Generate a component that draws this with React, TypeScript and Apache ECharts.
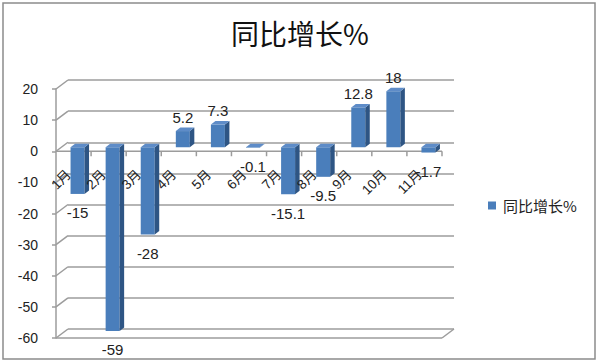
import React, { useEffect, useRef } from "react";
import * as echarts from "echarts";

const categories = ["1月", "2月", "3月", "4月", "5月", "6月", "7月", "8月", "9月", "10月", "11月"];
const values = [-15, -59, -28, 5.2, 7.3, -0.1, -15.1, -9.5, 12.8, 18, -1.7];
const yTicks = [-60, -50, -40, -30, -20, -10, 0, 10, 20];
const seriesName = "同比增长%";
const titleText = "同比增长%";

const LATIN = "'Liberation Sans', 'Noto Sans CJK SC', sans-serif";
const CJK = "'Noto Sans CJK SC', sans-serif";
const GRID_COLOR = "#9c9c9c";
const DEPTH_X = 12;
const DEPTH_Y = 9;
const GRID_LEFT = 56;
const GRID_TOP = 89;
const GRID_W = 386;
const GRID_H = 249;

export default function App() {
  const ref = useRef<HTMLDivElement>(null);

  useEffect(() => {
    document.body.style.margin = "0";
    if (!ref.current) return;
    const chart = echarts.init(ref.current, null, { renderer: "svg" });
    const yMin = yTicks[0];
    const yMax = yTicks[yTicks.length - 1];
    const yInterval = yTicks[1] - yTicks[0];
    const zeroOffset = ((0 - yMin) / (yMax - yMin)) * GRID_H;

    const frameRender = (params: any, api: any) => {
      const t = api.value(1);
      const p = api.coord([0, t]);
      const band = api.size([1, 0])[0];
      const left = p[0] - band / 2;
      const right = left + band * categories.length;
      const y = p[1];
      const ls = { stroke: GRID_COLOR, lineWidth: 1.5, fill: null };
      const children: any[] = [
        { type: "line", shape: { x1: left, y1: y, x2: left + DEPTH_X, y2: y - DEPTH_Y }, style: ls },
      ];
      if (t === yMin) {
        children.push({ type: "line", shape: { x1: left, y1: y, x2: right, y2: y }, style: ls });
        children.push({ type: "line", shape: { x1: right, y1: y, x2: right + DEPTH_X, y2: y - DEPTH_Y }, style: ls });
      }
      if (t === 0) {
        children.push({ type: "line", shape: { x1: left, y1: y, x2: right, y2: y }, style: ls });
        for (let k = 1; k <= categories.length; k++) {
          const x = left + k * band;
          children.push({ type: "line", shape: { x1: x, y1: y, x2: x, y2: y + 5 }, style: ls });
        }
      }
      return { type: "group", children };
    };

    const barRender = (params: any, api: any) => {
      const i = api.value(0);
      const v = api.value(1);
      const p0 = api.coord([i, 0]);
      const p1 = api.coord([i, v]);
      const cx = p0[0] + 4;
      const shiftY = -4;
      const yA = Math.min(p0[1], p1[1]) + shiftY;
      const yB = Math.max(p0[1], p1[1]) + shiftY;
      const hw = 7;
      const dx = 4.5;
      const dy = 3.5;
      const labelY = v >= 0 ? yA - 14 : yB + 19;
      return {
        type: "group",
        children: [
          { type: "rect", shape: { x: cx - hw, y: yA, width: hw * 2, height: Math.max(yB - yA, 0.5) }, style: { fill: "#4A7EBB" } },
          {
            type: "polygon",
            shape: { points: [[cx + hw, yA], [cx + hw + dx, yA - dy], [cx + hw + dx, yB - dy], [cx + hw, yB]] },
            style: { fill: "#2E5584" },
          },
          {
            type: "polygon",
            shape: { points: [[cx - hw, yA], [cx - hw + dx, yA - dy], [cx + hw + dx, yA - dy], [cx + hw, yA]] },
            style: { fill: "#5E8CC8" },
          },
          {
            type: "text",
            style: {
              text: String(v),
              x: cx,
              y: labelY,
              align: "center",
              verticalAlign: "middle",
              fill: "#222",
              fontSize: 15,
              fontFamily: LATIN,
            },
          },
        ],
      };
    };

    chart.setOption({
      animation: false,
      backgroundColor: "#fff",
      title: {
        text: titleText,
        left: "center",
        top: 19,
        padding: 0,
        textStyle: { fontSize: 28, fontWeight: "normal", color: "#111", fontFamily: CJK },
      },
      legend: {
        data: [{ name: seriesName, icon: "rect" }],
        left: 488,
        top: 198,
        padding: 0,
        itemWidth: 8,
        itemHeight: 8,
        textStyle: { fontSize: 15, color: "#222", fontFamily: CJK, padding: [0, 0, 0, 2] },
      },
      graphic: [
        {
          type: "rect",
          shape: { x: 3, y: 3, width: 592, height: 356 },
          style: { fill: null, stroke: "#8c8c8c", lineWidth: 1.5 },
          silent: true,
        },
      ],
      grid: [
        { left: GRID_LEFT, top: GRID_TOP, width: GRID_W, height: GRID_H, containLabel: false, outerBoundsMode: "none" },
        {
          left: GRID_LEFT + DEPTH_X,
          top: GRID_TOP - DEPTH_Y,
          width: GRID_W,
          height: GRID_H,
          containLabel: false,
          outerBoundsMode: "none",
        },
      ],
      xAxis: [
        {
          type: "category",
          gridIndex: 0,
          data: categories,
          z: 5,
          offset: -zeroOffset,
          axisLine: { show: false, onZero: false },
          axisTick: { show: false },
          axisLabel: {
            rotate: 45,
            margin: 16,
            padding: [0, 7, 0, 0],
            fontSize: 13.5,
            color: "#222",
            fontFamily: LATIN,
            interval: 0,
          },
        },
        { type: "category", gridIndex: 1, data: categories, show: false },
      ],
      yAxis: [
        {
          type: "value",
          gridIndex: 0,
          min: yMin,
          max: yMax,
          interval: yInterval,
          axisLine: { show: true, lineStyle: { color: GRID_COLOR, width: 1.5 } },
          axisTick: { show: true, length: 4, lineStyle: { color: GRID_COLOR, width: 1.5 } },
          axisLabel: { margin: 18, fontSize: 14, color: "#222", fontFamily: LATIN },
          splitLine: { show: false },
        },
        {
          type: "value",
          gridIndex: 1,
          min: yMin,
          max: yMax,
          interval: yInterval,
          axisLine: { show: false },
          axisTick: { show: false },
          axisLabel: { show: false },
          splitLine: { show: true, lineStyle: { color: GRID_COLOR, width: 1.5 } },
        },
      ],
      series: [
        {
          name: "frame",
          type: "custom",
          xAxisIndex: 0,
          yAxisIndex: 0,
          z: 1,
          silent: true,
          clip: false,
          renderItem: frameRender,
          encode: { x: 0, y: 1 },
          data: yTicks.map((t) => [0, t]),
        },
        {
          name: seriesName,
          type: "custom",
          xAxisIndex: 0,
          yAxisIndex: 0,
          z: 2,
          clip: false,
          itemStyle: { color: "#4A7EBB" },
          renderItem: barRender,
          encode: { x: 0, y: 1 },
          data: values.map((v, i) => [i, v]),
        },
      ],
    });
    return () => chart.dispose();
  }, []);

  return <div ref={ref} style={{ width: 600, height: 364 }} />;
}
